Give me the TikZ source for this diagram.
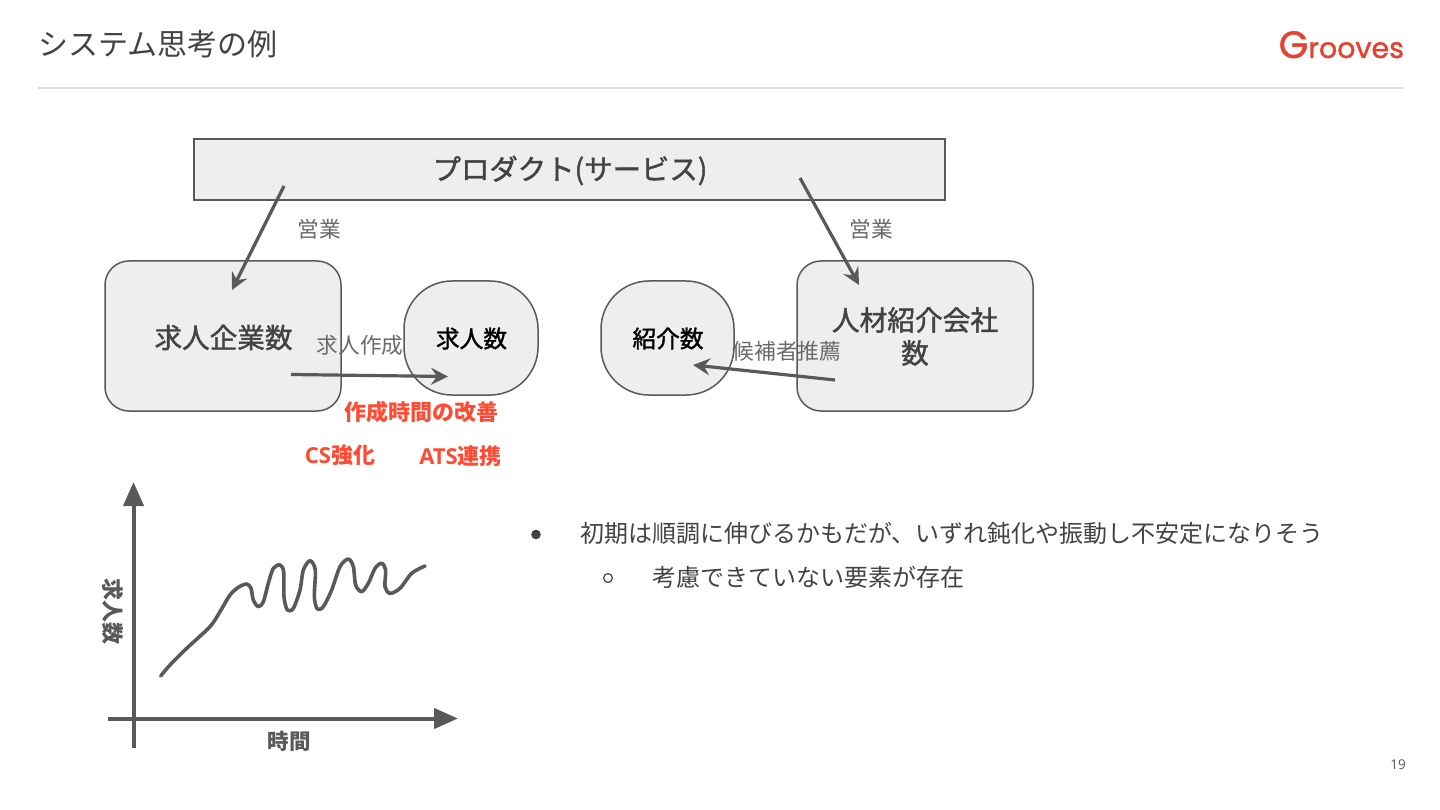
\documentclass[tikz,border=0pt]{standalone}
\usepackage{fontspec}
\usetikzlibrary{arrows.meta}
\setmainfont{Open Sans}
\newfontfamily\cjk{Noto Sans CJK JP}
\newfontfamily\cjkm[FakeBold=1.4]{Noto Sans CJK JP}
\newfontfamily\logofont[FakeBold=1.2]{Poppins}
\definecolor{ink}{HTML}{595959}
\definecolor{txt}{HTML}{434343}
\definecolor{boxfill}{HTML}{EEEEEE}
\definecolor{accent}{HTML}{FF4B33}
\definecolor{logored}{HTML}{E8402F}
\definecolor{rule}{HTML}{DDDDDD}
\tikzset{
  x=1pt,y=-1pt,
  every node/.style={inner sep=0pt,outer sep=0pt,align=center,text=txt},
  fs/.style={font=\fontsize{#1}{33}\selectfont\cjk},
  fsm/.style={font=\fontsize{#1}{33}\selectfont\cjkm},
  fsb/.style={font=\fontsize{#1}{33}\selectfont\cjk\bfseries},
  rectbox/.style={draw=ink,fill=boxfill,line width=1.5pt},
  stockbox/.style={rectbox,rounded corners=24pt},
  flowbox/.style={rectbox,rounded corners=48pt},
  conn/.style={draw=ink,line width=3.2pt,-{Stealth[length=17pt,width=17pt,inset=6pt]}},
  axisline/.style={draw=ink,line width=4pt,-{Triangle[length=24pt,width=20pt]}},
  lab/.style={fs=21.7,text=ink!90},
  red/.style={fsb=22,text=accent},
}
\begin{document}
\begin{tikzpicture}
\useasboundingbox (0,0) rectangle (1440,810);
\fill[white] (0,0) rectangle (1440,810);
% header
\node[fs=30,anchor=west] (title) at (38,44.5) {システム思考の例};
\node[anchor=base east,text=logored] (logo) at (1404,58) {\fontsize{38}{38}\selectfont\logofont G\fontsize{28.5}{38}\selectfont rooves};
\coordinate (ruleA) at (38,88); \coordinate (ruleB) at (1403,88);
\draw[rule,line width=2pt] (ruleA) -- (ruleB);
% boxes
\node[rectbox,minimum width=751pt,minimum height=61pt] (product) at (569.5,169.5) {};
\node[fsm=28.4] (productT) at (570,170.5) {プロダクト(サービス)};
\node[stockbox,minimum width=236pt,minimum height=150pt] (company) at (223,336) {};
\node[fsm=27.6] (companyT) at (223.5,337.5) {求人企業数};
\node[flowbox,minimum width=134pt,minimum height=114pt] (jobs) at (471,338) {};
\node[fsm=23.7,text=black] (jobsT) at (471.5,338.5) {求人数};
\node[flowbox,minimum width=133pt,minimum height=114pt] (intro) at (667.5,338) {};
\node[fsm=23.7,text=black] (introT) at (668,338.5) {紹介数};
\node[stockbox,minimum width=236pt,minimum height=150pt] (agency) at (915,336) {};
\node[fsm=27.7] (agencyT) at (915,336.5) {人材紹介会社\\数};
% connector ends
\coordinate (a1) at (284,186); \coordinate (a2) at (232,290);
\coordinate (b1) at (800,178); \coordinate (b2) at (859,285);
\coordinate (c1) at (291,374.5); \coordinate (c2) at (448,376.5);
\coordinate (d1) at (835,380); \coordinate (d2) at (693,365);
\path[conn] (a1) -- (a2);
\path[conn] (b1) -- (b2);
\path[conn] (c1) -- (c2);
\path[conn] (d1) -- (d2);
% labels
\node[lab] (l1) at (319,229.5) {営業};
\node[lab] (l2) at (871,229.5) {営業};
\node[lab] (l3) at (360,345) {求人作成};
\node[lab] (l4) at (787,351.5) {候補者推薦};
\node[red] (r1) at (421.5,412.5) {作成時間の改善};
\node[red] (r2) at (340,455.5) {{\fontspec{Open Sans}\bfseries CS}強化};
\node[red] (r3) at (460.5,456.5) {{\fontspec{Open Sans}\bfseries ATS}連携};
% graph
\coordinate (v0) at (133.5,748); \coordinate (v1) at (133.5,482);
\coordinate (h0) at (108,718.5); \coordinate (h1) at (458,718.5);
\path[axisline] (v0) -- (v1);
\path[axisline] (h0) -- (h1);
\begin{scope}[shift={(90,470)},scale=1/3]
\draw[ink,line width=3.6pt,line cap=round,line join=round] plot[smooth,tension=0.5] coordinates {
(212,618) (240,585) (290,535) (360,470) (390,425) (420,375) (445,352) (470,342) (483,355) (490,390) (505,410) (520,395) (535,340) (550,295) (570,285) (581,305) (582,380) (592,420) (610,415) (630,360) (640,300) (660,272) (676,300) (673,380) (682,417) (700,410) (725,360) (750,290) (775,267) (790,290) (797,345) (815,365) (835,340) (855,295) (875,280) (887,300) (885,350) (900,370) (930,355) (965,310) (1005,288)};
\end{scope}
\node[fsb=22,text=ink,rotate=-90] (yl) at (113,611) {求人数};
\node[fsb=21.5,text=ink] (xl) at (289,741.5) {時間};
% bullets
\node[fs=24,anchor=west] (b1t) at (580,533) {初期は順調に伸びるかもだが、いずれ鈍化や振動し不安定になりそう};
\node[fs=24,anchor=west] (b2t) at (652,577) {考慮できていない要素が存在};
\fill[txt] (536,534.5) circle (4.8pt);
\draw[txt,line width=1.2pt] (608,578) circle (4.4pt);
\node[font=\fontsize{13.5}{13.5}\selectfont,text=ink] (page) at (1398,765) {19};
\end{tikzpicture}
\end{document}
